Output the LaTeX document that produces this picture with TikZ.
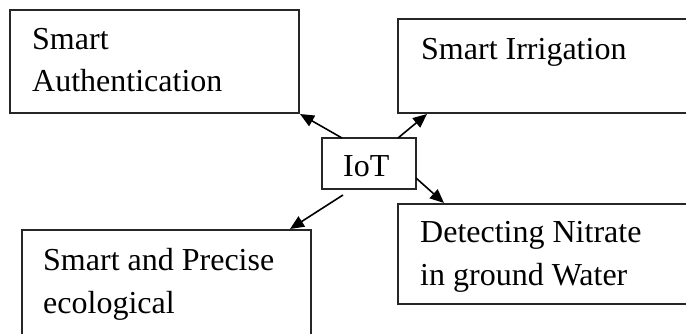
\documentclass[tikz,border=0pt]{standalone}
\usepackage{fontspec}
\setmainfont{Liberation Serif}
\usetikzlibrary{arrows.meta,calc}
\begin{document}
\begin{tikzpicture}[x=1pt,y=-1pt,
  box/.style={draw=black!85,line width=2pt,rectangle,inner sep=0pt,outer sep=0pt,anchor=north west},
  lbl/.style={anchor=base west,inner sep=0pt,font=\fontsize{32}{42}\selectfont},
  conn/.style={line width=1.6pt,-{Triangle[length=14pt,width=12pt]}}]
\useasboundingbox (0,0) rectangle (686,334);
\clip (0,0) rectangle (686,334);
\fill[white] (0,0) rectangle (686,334);
% boxes
\node[box,minimum width=289pt,minimum height=103pt] (auth) at (10,10) {};
\node[box,minimum width=300pt,minimum height=94pt] (irr) at (398,19) {};
\node[box,minimum width=94pt,minimum height=51pt] (iot) at (322,138) {};
\node[box,minimum width=289pt,minimum height=120pt] (eco) at (22,230) {};
\node[box,minimum width=300pt,minimum height=100pt] (nit) at (398,204) {};
% texts
\node[lbl] (t1) at (32,50) {Smart};
\node[lbl] (t2) at (32,92) {Authentication};
\node[lbl] (t3) at (421,60) {Smart Irrigation};
\node[lbl] (t4) at (343,177) {IoT};
\node[lbl] (t5) at (43,270) {Smart and Precise};
\node[lbl] (t6) at (43,313) {ecological};
\node[lbl] (t7) at (420,243) {Detecting Nitrate};
\node[lbl] (t8) at (420,285) {in ground Water};
% connectors
\draw[conn] ($(iot.north west)+(20,0)$) -- ($(auth.south east)+(1,1)$);
\draw[conn] ($(iot.north west)+(76,0)$) -- ($(irr.south west)+(29,1)$);
\draw[conn] ($(iot.north east)+(0,40)$) -- ($(nit.north west)+(46,-1)$);
\draw[conn] ($(iot.south west)+(21,6)$) -- ($(eco.north east)+(-21,-1)$);
\end{tikzpicture}
\end{document}
